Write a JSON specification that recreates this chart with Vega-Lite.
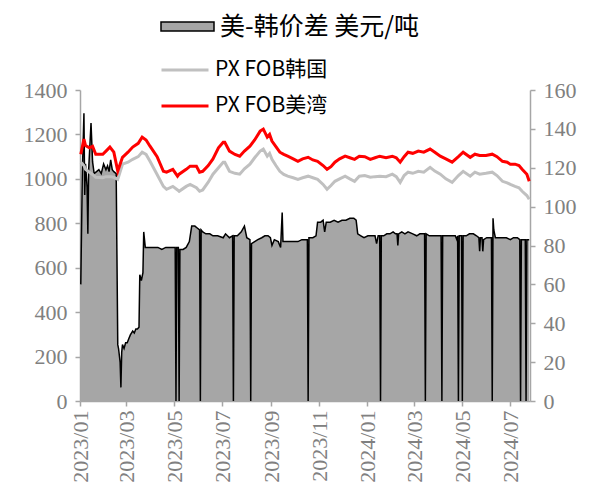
{
  "$schema": "https://vega.github.io/schema/vega-lite/v6.json",
  "width": 450,
  "height": 311,
  "autosize": {"type": "none"},
  "padding": {"left": 80, "top": 90, "right": 59, "bottom": 94},
  "background": "white",
  "config": {
    "view": {"stroke": null},
    "axis": {
      "grid": false,
      "labelFont": "Times New Roman, Liberation Serif, DejaVu Serif, serif",
      "labelFontSize": 22,
      "labelColor": "#808080",
      "domainColor": "#a6a6a6",
      "domainWidth": 1.5,
      "tickColor": "#a6a6a6",
      "tickWidth": 1.5,
      "tickSize": 5,
      "title": null
    },
    "legend": {
      "labelFont": "Noto Sans CJK SC",
      "labelColor": "black",
      "labelLimit": 500,
      "title": null,
      "padding": 0
    }
  },
  "datasets": {
    "spread": [
      {"date": "2023-01-02", "v": 60}, {"date": "2023-01-04", "v": 118}, {"date": "2023-01-06", "v": 148},
      {"date": "2023-01-07", "v": 106}, {"date": "2023-01-08", "v": 122}, {"date": "2023-01-10", "v": 110},
      {"date": "2023-01-11", "v": 86}, {"date": "2023-01-12", "v": 119}, {"date": "2023-01-15", "v": 143},
      {"date": "2023-01-17", "v": 123}, {"date": "2023-01-19", "v": 117}, {"date": "2023-01-22", "v": 118},
      {"date": "2023-01-25", "v": 119}, {"date": "2023-01-28", "v": 117}, {"date": "2023-01-31", "v": 122},
      {"date": "2023-02-03", "v": 119}, {"date": "2023-02-05", "v": 121}, {"date": "2023-02-07", "v": 118},
      {"date": "2023-02-09", "v": 124}, {"date": "2023-02-11", "v": 119}, {"date": "2023-02-13", "v": 118},
      {"date": "2023-02-16", "v": 117}, {"date": "2023-02-18", "v": 29}, {"date": "2023-02-19", "v": 27},
      {"date": "2023-02-21", "v": 20}, {"date": "2023-02-22", "v": 7}, {"date": "2023-02-23", "v": 25},
      {"date": "2023-02-24", "v": 29}, {"date": "2023-02-26", "v": 27}, {"date": "2023-02-28", "v": 30},
      {"date": "2023-03-02", "v": 30}, {"date": "2023-03-04", "v": 32}, {"date": "2023-03-06", "v": 34},
      {"date": "2023-03-09", "v": 36}, {"date": "2023-03-11", "v": 35}, {"date": "2023-03-13", "v": 37},
      {"date": "2023-03-15", "v": 37}, {"date": "2023-03-17", "v": 38}, {"date": "2023-03-18", "v": 65},
      {"date": "2023-03-20", "v": 62}, {"date": "2023-03-22", "v": 66}, {"date": "2023-03-23", "v": 87},
      {"date": "2023-03-25", "v": 79}, {"date": "2023-04-05", "v": 79}, {"date": "2023-04-10", "v": 79},
      {"date": "2023-04-15", "v": 78}, {"date": "2023-04-20", "v": 79}, {"date": "2023-04-25", "v": 79},
      {"date": "2023-05-02", "v": 79}, {"date": "2023-05-03", "v": 0}, {"date": "2023-05-04", "v": 79},
      {"date": "2023-05-06", "v": 79}, {"date": "2023-05-07", "v": 0}, {"date": "2023-05-08", "v": 78},
      {"date": "2023-05-12", "v": 78}, {"date": "2023-05-16", "v": 79}, {"date": "2023-05-20", "v": 82},
      {"date": "2023-05-23", "v": 90}, {"date": "2023-05-27", "v": 90}, {"date": "2023-05-30", "v": 89},
      {"date": "2023-06-02", "v": 88}, {"date": "2023-06-03", "v": 0}, {"date": "2023-06-04", "v": 88},
      {"date": "2023-06-06", "v": 87}, {"date": "2023-06-10", "v": 86}, {"date": "2023-06-15", "v": 86},
      {"date": "2023-06-19", "v": 85}, {"date": "2023-06-25", "v": 85}, {"date": "2023-07-02", "v": 84},
      {"date": "2023-07-05", "v": 86}, {"date": "2023-07-10", "v": 84}, {"date": "2023-07-14", "v": 85},
      {"date": "2023-07-15", "v": 0}, {"date": "2023-07-16", "v": 85}, {"date": "2023-07-20", "v": 85},
      {"date": "2023-07-25", "v": 87}, {"date": "2023-07-29", "v": 90}, {"date": "2023-08-01", "v": 84},
      {"date": "2023-08-05", "v": 83}, {"date": "2023-08-06", "v": 0}, {"date": "2023-08-07", "v": 81},
      {"date": "2023-08-11", "v": 82}, {"date": "2023-08-15", "v": 83}, {"date": "2023-08-20", "v": 84},
      {"date": "2023-08-24", "v": 85}, {"date": "2023-08-28", "v": 85}, {"date": "2023-08-31", "v": 84},
      {"date": "2023-09-02", "v": 80}, {"date": "2023-09-05", "v": 83}, {"date": "2023-09-10", "v": 82},
      {"date": "2023-09-13", "v": 79}, {"date": "2023-09-15", "v": 97}, {"date": "2023-09-16", "v": 82},
      {"date": "2023-09-20", "v": 82}, {"date": "2023-09-25", "v": 82}, {"date": "2023-10-01", "v": 82},
      {"date": "2023-10-05", "v": 82}, {"date": "2023-10-10", "v": 83}, {"date": "2023-10-17", "v": 83},
      {"date": "2023-10-18", "v": 0}, {"date": "2023-10-19", "v": 84}, {"date": "2023-10-24", "v": 84},
      {"date": "2023-10-28", "v": 85}, {"date": "2023-10-30", "v": 92}, {"date": "2023-11-03", "v": 92},
      {"date": "2023-11-06", "v": 93}, {"date": "2023-11-08", "v": 87}, {"date": "2023-11-10", "v": 92},
      {"date": "2023-11-15", "v": 92}, {"date": "2023-11-20", "v": 93}, {"date": "2023-11-25", "v": 92},
      {"date": "2023-11-30", "v": 93}, {"date": "2023-12-05", "v": 93}, {"date": "2023-12-10", "v": 94},
      {"date": "2023-12-15", "v": 94}, {"date": "2023-12-18", "v": 93}, {"date": "2023-12-20", "v": 86},
      {"date": "2023-12-24", "v": 85}, {"date": "2023-12-28", "v": 84}, {"date": "2024-01-02", "v": 85},
      {"date": "2024-01-07", "v": 85}, {"date": "2024-01-11", "v": 85}, {"date": "2024-01-13", "v": 81},
      {"date": "2024-01-15", "v": 85}, {"date": "2024-01-17", "v": 85}, {"date": "2024-01-18", "v": 0},
      {"date": "2024-01-19", "v": 85}, {"date": "2024-01-22", "v": 85}, {"date": "2024-01-26", "v": 86},
      {"date": "2024-01-30", "v": 86}, {"date": "2024-02-03", "v": 87}, {"date": "2024-02-06", "v": 86},
      {"date": "2024-02-08", "v": 86}, {"date": "2024-02-09", "v": 80}, {"date": "2024-02-10", "v": 86},
      {"date": "2024-02-14", "v": 87}, {"date": "2024-02-18", "v": 86}, {"date": "2024-02-22", "v": 87},
      {"date": "2024-02-28", "v": 86}, {"date": "2024-03-04", "v": 85}, {"date": "2024-03-08", "v": 86},
      {"date": "2024-03-14", "v": 86}, {"date": "2024-03-15", "v": 0}, {"date": "2024-03-16", "v": 86},
      {"date": "2024-03-20", "v": 85}, {"date": "2024-03-25", "v": 85}, {"date": "2024-03-30", "v": 85},
      {"date": "2024-04-04", "v": 85}, {"date": "2024-04-05", "v": 0}, {"date": "2024-04-06", "v": 85},
      {"date": "2024-04-11", "v": 85}, {"date": "2024-04-15", "v": 85}, {"date": "2024-04-18", "v": 85},
      {"date": "2024-04-22", "v": 85}, {"date": "2024-04-24", "v": 83}, {"date": "2024-04-25", "v": 85},
      {"date": "2024-04-26", "v": 0}, {"date": "2024-04-27", "v": 85}, {"date": "2024-04-30", "v": 85},
      {"date": "2024-05-01", "v": 0}, {"date": "2024-05-02", "v": 85}, {"date": "2024-05-06", "v": 85},
      {"date": "2024-05-10", "v": 86}, {"date": "2024-05-15", "v": 86}, {"date": "2024-05-19", "v": 85},
      {"date": "2024-05-22", "v": 84}, {"date": "2024-05-23", "v": 77}, {"date": "2024-05-24", "v": 84},
      {"date": "2024-05-26", "v": 84}, {"date": "2024-05-27", "v": 77}, {"date": "2024-05-28", "v": 83},
      {"date": "2024-06-01", "v": 84}, {"date": "2024-06-07", "v": 84}, {"date": "2024-06-08", "v": 0},
      {"date": "2024-06-09", "v": 94}, {"date": "2024-06-10", "v": 88}, {"date": "2024-06-12", "v": 84},
      {"date": "2024-06-16", "v": 84}, {"date": "2024-06-21", "v": 84}, {"date": "2024-06-26", "v": 84},
      {"date": "2024-07-01", "v": 83}, {"date": "2024-07-05", "v": 84}, {"date": "2024-07-10", "v": 84},
      {"date": "2024-07-13", "v": 83}, {"date": "2024-07-14", "v": 0}, {"date": "2024-07-15", "v": 83},
      {"date": "2024-07-19", "v": 83}, {"date": "2024-07-20", "v": 83}, {"date": "2024-07-21", "v": 0},
      {"date": "2024-07-22", "v": 83}, {"date": "2024-07-25", "v": 83}
    ],
    "px": [
      {"date": "2023-01-02", "us": 1111, "kr": 1075}, {"date": "2023-01-06", "us": 1179, "kr": 1060},
      {"date": "2023-01-08", "us": 1150, "kr": 1043}, {"date": "2023-01-13", "us": 1140, "kr": 1030},
      {"date": "2023-01-17", "us": 1147, "kr": 1020}, {"date": "2023-01-21", "us": 1111, "kr": 1007},
      {"date": "2023-01-30", "us": 1111, "kr": 1005}, {"date": "2023-02-03", "us": 1125, "kr": 1010},
      {"date": "2023-02-08", "us": 1143, "kr": 1010}, {"date": "2023-02-13", "us": 1120, "kr": 1007},
      {"date": "2023-02-18", "us": 1035, "kr": 998}, {"date": "2023-02-24", "us": 1097, "kr": 1066},
      {"date": "2023-03-03", "us": 1120, "kr": 1075}, {"date": "2023-03-09", "us": 1143, "kr": 1088},
      {"date": "2023-03-16", "us": 1160, "kr": 1100}, {"date": "2023-03-21", "us": 1188, "kr": 1120},
      {"date": "2023-03-26", "us": 1175, "kr": 1110}, {"date": "2023-03-31", "us": 1147, "kr": 1079},
      {"date": "2023-04-09", "us": 1100, "kr": 1020}, {"date": "2023-04-17", "us": 1034, "kr": 966},
      {"date": "2023-04-21", "us": 1030, "kr": 953}, {"date": "2023-04-29", "us": 1043, "kr": 966},
      {"date": "2023-05-05", "us": 1012, "kr": 950}, {"date": "2023-05-07", "us": 1021, "kr": 944},
      {"date": "2023-05-16", "us": 1043, "kr": 966}, {"date": "2023-05-21", "us": 1057, "kr": 975},
      {"date": "2023-05-29", "us": 1057, "kr": 960}, {"date": "2023-06-02", "us": 1030, "kr": 944},
      {"date": "2023-06-06", "us": 1034, "kr": 950}, {"date": "2023-06-13", "us": 1060, "kr": 985},
      {"date": "2023-06-19", "us": 1090, "kr": 1021}, {"date": "2023-06-26", "us": 1140, "kr": 1050},
      {"date": "2023-07-02", "us": 1165, "kr": 1075}, {"date": "2023-07-04", "us": 1165, "kr": 1075},
      {"date": "2023-07-10", "us": 1125, "kr": 1034}, {"date": "2023-07-17", "us": 1110, "kr": 1025},
      {"date": "2023-07-23", "us": 1102, "kr": 1021}, {"date": "2023-07-29", "us": 1125, "kr": 1045},
      {"date": "2023-08-05", "us": 1147, "kr": 1066}, {"date": "2023-08-11", "us": 1175, "kr": 1095},
      {"date": "2023-08-18", "us": 1215, "kr": 1125}, {"date": "2023-08-22", "us": 1224, "kr": 1134},
      {"date": "2023-08-27", "us": 1188, "kr": 1102}, {"date": "2023-08-30", "us": 1200, "kr": 1115},
      {"date": "2023-09-02", "us": 1170, "kr": 1088}, {"date": "2023-09-07", "us": 1145, "kr": 1060},
      {"date": "2023-09-12", "us": 1120, "kr": 1034}, {"date": "2023-09-17", "us": 1110, "kr": 1020},
      {"date": "2023-09-22", "us": 1102, "kr": 1012}, {"date": "2023-09-29", "us": 1090, "kr": 1005},
      {"date": "2023-10-05", "us": 1079, "kr": 998}, {"date": "2023-10-11", "us": 1090, "kr": 1005},
      {"date": "2023-10-18", "us": 1097, "kr": 1012}, {"date": "2023-10-24", "us": 1085, "kr": 1005},
      {"date": "2023-10-30", "us": 1079, "kr": 998}, {"date": "2023-11-06", "us": 1060, "kr": 975},
      {"date": "2023-11-11", "us": 1043, "kr": 953}, {"date": "2023-11-16", "us": 1055, "kr": 970},
      {"date": "2023-11-21", "us": 1075, "kr": 989}, {"date": "2023-11-27", "us": 1090, "kr": 1000},
      {"date": "2023-12-04", "us": 1102, "kr": 1012}, {"date": "2023-12-10", "us": 1095, "kr": 1000},
      {"date": "2023-12-16", "us": 1088, "kr": 989}, {"date": "2023-12-22", "us": 1102, "kr": 1012},
      {"date": "2023-12-29", "us": 1100, "kr": 1015}, {"date": "2024-01-05", "us": 1088, "kr": 1007},
      {"date": "2024-01-11", "us": 1095, "kr": 1010}, {"date": "2024-01-17", "us": 1102, "kr": 1012},
      {"date": "2024-01-25", "us": 1095, "kr": 1010}, {"date": "2024-02-02", "us": 1102, "kr": 1021},
      {"date": "2024-02-07", "us": 1095, "kr": 1010}, {"date": "2024-02-12", "us": 1075, "kr": 984},
      {"date": "2024-02-17", "us": 1100, "kr": 1015}, {"date": "2024-02-22", "us": 1120, "kr": 1030},
      {"date": "2024-02-28", "us": 1115, "kr": 1025}, {"date": "2024-03-06", "us": 1125, "kr": 1034},
      {"date": "2024-03-13", "us": 1120, "kr": 1030}, {"date": "2024-03-21", "us": 1134, "kr": 1052},
      {"date": "2024-03-27", "us": 1120, "kr": 1035}, {"date": "2024-04-03", "us": 1102, "kr": 1021},
      {"date": "2024-04-10", "us": 1090, "kr": 1000}, {"date": "2024-04-18", "us": 1075, "kr": 984},
      {"date": "2024-04-26", "us": 1100, "kr": 1015}, {"date": "2024-05-02", "us": 1120, "kr": 1034},
      {"date": "2024-05-11", "us": 1097, "kr": 1012}, {"date": "2024-05-17", "us": 1111, "kr": 1030},
      {"date": "2024-05-23", "us": 1105, "kr": 1021}, {"date": "2024-05-31", "us": 1105, "kr": 1025},
      {"date": "2024-06-08", "us": 1111, "kr": 1030}, {"date": "2024-06-14", "us": 1100, "kr": 1015},
      {"date": "2024-06-21", "us": 1079, "kr": 989}, {"date": "2024-06-27", "us": 1075, "kr": 982},
      {"date": "2024-07-01", "us": 1066, "kr": 975}, {"date": "2024-07-07", "us": 1066, "kr": 966},
      {"date": "2024-07-12", "us": 1060, "kr": 960}, {"date": "2024-07-16", "us": 1043, "kr": 944},
      {"date": "2024-07-22", "us": 1021, "kr": 925}, {"date": "2024-07-25", "us": 989, "kr": 908}
    ]
  },
  "encoding": {
    "x": {
      "field": "date",
      "type": "temporal",
      "scale": {
        "type": "utc",
        "domain": [
          {"year": 2023, "month": 1, "date": 1, "utc": true},
          {"year": 2024, "month": 7, "date": 26, "utc": true}
        ]
      },
      "axis": {
        "format": "%Y/%m",
        "labelAngle": 270,
        "labelPadding": 4,
        "labelFont": "Times New Roman, Liberation Serif, DejaVu Serif, serif",
        "labelFontSize": 22,
        "values": [
          {"year": 2023, "month": 1, "date": 1, "utc": true},
          {"year": 2023, "month": 3, "date": 1, "utc": true},
          {"year": 2023, "month": 5, "date": 1, "utc": true},
          {"year": 2023, "month": 7, "date": 1, "utc": true},
          {"year": 2023, "month": 9, "date": 1, "utc": true},
          {"year": 2023, "month": 11, "date": 1, "utc": true},
          {"year": 2024, "month": 1, "date": 1, "utc": true},
          {"year": 2024, "month": 3, "date": 1, "utc": true},
          {"year": 2024, "month": 5, "date": 1, "utc": true},
          {"year": 2024, "month": 7, "date": 1, "utc": true}
        ]
      }
    }
  },
  "layer": [
    {
      "data": {"name": "spread"},
      "mark": {"type": "area"},
      "encoding": {
        "y": {
          "field": "v",
          "type": "quantitative",
          "scale": {"domain": [0, 160], "nice": false},
          "axis": {"orient": "right", "values": [0, 20, 40, 60, 80, 100, 120, 140, 160], "labelPadding": 8, "format": "d", "labelFont": "Times New Roman, Liberation Serif, DejaVu Serif, serif", "labelFontSize": 22}
        },
        "fill": {
          "datum": "美-韩价差 美元/吨",
          "scale": {"domain": ["美-韩价差 美元/吨"], "range": ["#a6a6a6"]},
          "legend": {
            "orient": "none",
            "legendX": 80,
            "legendY": -91,
            "labelFontSize": 25,
            "labelOffset": 5,
            "labelLimit": 500,
            "symbolType": "M-1,-0.17H1V0.17H-1Z",
            "symbolSize": 2809,
            "symbolStrokeColor": "black",
            "symbolStrokeWidth": 1.5,
            "encode": {"symbols": {"update": {"stroke": {"value": "black"}, "strokeWidth": {"value": 1.5}}}}
          }
        }
      }
    },
    {
      "data": {"name": "spread"},
      "mark": {"type": "line", "color": "black", "strokeWidth": 1.5},
      "encoding": {
        "y": {"field": "v", "type": "quantitative", "scale": {"domain": [0, 160], "nice": false}, "axis": null}
      }
    },
    {
      "data": {"name": "px"},
      "mark": {"type": "line", "strokeWidth": 3},
      "encoding": {
        "y": {
          "field": "kr",
          "type": "quantitative",
          "scale": {"domain": [0, 1400], "nice": false},
          "axis": {"orient": "left", "values": [0, 200, 400, 600, 800, 1000, 1200, 1400], "labelPadding": 8, "format": "d", "labelFont": "Times New Roman, Liberation Serif, DejaVu Serif, serif", "labelFontSize": 22}
        },
        "stroke": {
          "datum": "PX FOB韩国",
          "scale": {"domain": ["PX FOB韩国", "PX FOB美湾"], "range": ["#c0c0c0", "#ff0000"]},
          "legend": {
            "orient": "none",
            "legendX": 80,
            "legendY": -45,
            "labelFontSize": 21,
            "labelOffset": 5,
            "labelLimit": 500,
            "symbolType": "stroke",
            "symbolSize": 2209,
            "symbolStrokeWidth": 3,
            "rowPadding": 1
          }
        }
      }
    },
    {
      "data": {"name": "px"},
      "mark": {"type": "line", "strokeWidth": 3},
      "encoding": {
        "y": {"field": "us", "type": "quantitative", "scale": {"domain": [0, 1400], "nice": false}, "axis": null},
        "stroke": {"datum": "PX FOB美湾"}
      }
    }
  ],
  "resolve": {"scale": {"y": "independent"}}
}
